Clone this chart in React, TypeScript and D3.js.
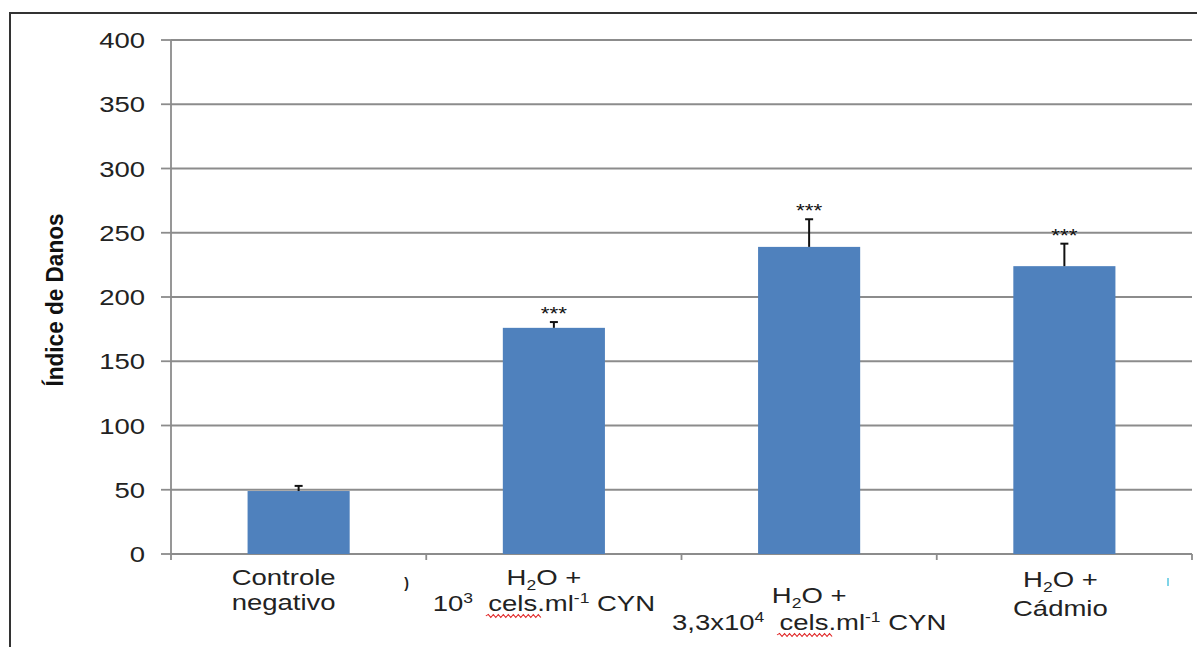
import React, { useEffect, useRef } from "react";
import * as d3 from "d3";

// ---- data ----
const categories = [
  "Controle negativo",
  "H2O + 10^3 cels.ml-1 CYN",
  "H2O + 3,3x10^4 cels.ml-1 CYN",
  "H2O + Cádmio",
];
const means = [49, 176, 239, 224];
const errors = [4, 4.5, 21.5, 17.5];
const significance = ["", "***", "***", "***"];
const yTicks = [0, 50, 100, 150, 200, 250, 300, 350, 400];
const yTitle = "Índice de Danos";

type Seg = [string, "" | "sub" | "sup" | "spell"];
const labelLines: Seg[][][] = [
  [[["Controle", ""]], [["negativo", ""]]],
  [
    [["H", ""], ["2", "sub"], ["O +", ""]],
    [["10", ""], ["3", "sup"], ["  ", ""], ["cels", "spell"], [".ml", ""], ["-1", "sup"], [" CYN", ""]],
  ],
  [
    [["H", ""], ["2", "sub"], ["O +", ""]],
    [["3,3x10", ""], ["4", "sup"], ["  ", ""], ["cels", "spell"], [".ml", ""], ["-1", "sup"], [" CYN", ""]],
  ],
  [[["H", ""], ["2", "sub"], ["O +", ""]], [["Cádmio", ""]]],
];

const W = 1197;
const H = 647;
const FONT = "'Liberation Sans', Arial, sans-serif";
const SX = 1.25;

function renderLine(segs: Seg[]) {
  let shift = 0;
  return segs.map(([t, kind], i) => {
    const target = kind === "sub" ? 5 : kind === "sup" ? -8 : 0;
    const dy = target - shift;
    shift = target;
    const small = kind === "sub" || kind === "sup";
    return (
      <tspan key={i} dy={dy} fontSize={small ? 14 : undefined} className={kind === "spell" ? "spell" : undefined}>
        {t}
      </tspan>
    );
  });
}

export default function App() {
  const svgRef = useRef<SVGSVGElement>(null);

  const x = d3.scaleBand<string>().domain(categories).range([171, 1192]).padding(0);
  const y = d3.scaleLinear().domain([0, 400]).range([554, 40]);
  const bw = x.bandwidth() * 0.4;
  const cx = (c: string) => (x(c) as number) + x.bandwidth() / 2;

  const nudge = [
    [-15, 0],
    [-10, 0],
    [0, 18],
    [-4, 2],
  ];
  const lineGap = [25, 26, 27, 29];

  useEffect(() => {
    const svg = d3.select(svgRef.current);
    svg.selectAll("path.squiggle").remove();
    svg.selectAll<SVGTSpanElement, unknown>("tspan.spell").each(function () {
      const n = this.getNumberOfChars();
      const s = this.getStartPositionOfChar(0);
      const e = this.getEndPositionOfChar(n - 1);
      const g = (this.parentNode as Element).parentNode as Element;
      const yy = s.y + 5;
      let d = `M${s.x - 2},${yy}`;
      let up = true;
      for (let xx = s.x - 2 + 2; xx <= e.x + 4; xx += 2) {
        d += ` L${xx},${yy + (up ? -1.5 : 1.5)}`;
        up = !up;
      }
      d3.select(g).append("path").attr("class", "squiggle").attr("d", d).attr("fill", "none").attr("stroke", "#e02020").attr("stroke-width", 0.9);
    });
  }, []);

  return (
    <svg ref={svgRef} width={W} height={H} style={{ position: "absolute", left: 0, top: 0, background: "#fff" }} fontFamily={FONT}>
      <rect x={0} y={0} width={W} height={H} fill="#fff" />
      {/* frame */}
      <path d={`M10,${H} V13 H${W}`} fill="none" stroke="#333" strokeWidth={2} />

      {/* gridlines */}
      {yTicks.map((t) => (
        <line key={"g" + t} x1={171} x2={1192} y1={y(t)} y2={y(t)} stroke="#8c8c8c" strokeWidth={1.8} />
      ))}
      {/* y axis */}
      <line x1={171} x2={171} y1={y(400)} y2={y(0)} stroke="#8c8c8c" strokeWidth={1.8} />
      {yTicks.map((t) => (
        <line key={"t" + t} x1={161} x2={171} y1={y(t)} y2={y(t)} stroke="#8c8c8c" strokeWidth={1.8} />
      ))}
      {yTicks.map((t) => (
        <g key={"l" + t} transform={`translate(145,${y(t) + 8}) scale(${SX},1)`}>
          <text textAnchor="end" fontSize={22} fill="#222">
            {t}
          </text>
        </g>
      ))}
      {/* x axis */}
      <line x1={171} x2={1192} y1={y(0)} y2={y(0)} stroke="#8c8c8c" strokeWidth={1.8} />
      {[...categories.map((c) => x(c) as number), 1192].map((v, i) => (
        <line key={"xt" + i} x1={v} x2={v} y1={y(0)} y2={y(0) + 6} stroke="#8c8c8c" strokeWidth={1.8} />
      ))}

      {/* bars */}
      {categories.map((c, i) => (
        <rect key={"b" + i} x={cx(c) - bw / 2} y={y(means[i])} width={bw} height={y(0) - y(means[i])} fill="#4F81BD" />
      ))}
      {/* error bars */}
      {categories.map((c, i) => {
        const top = y(means[i] + errors[i]);
        return (
          <g key={"e" + i} stroke="#111" strokeWidth={2}>
            <line x1={cx(c)} x2={cx(c)} y1={y(means[i])} y2={top} />
            <line x1={cx(c) - 4} x2={cx(c) + 4} y1={top} y2={top} />
          </g>
        );
      })}
      {/* significance */}
      {categories.map((c, i) =>
        significance[i] ? (
          <g key={"s" + i} transform={`translate(${cx(c)},${y(means[i] + errors[i]) - 2}) scale(${SX},1)`}>
            <text textAnchor="middle" fontSize={18} fill="#111">
              {significance[i]}
            </text>
          </g>
        ) : null
      )}

      {/* x labels */}
      {categories.map((c, i) => (
        <g key={"xl" + i} transform={`translate(${cx(c) + nudge[i][0]},${585 + nudge[i][1]}) scale(${SX},1)`}>
          {labelLines[i].map((line, j) => (
            <text key={j} x={0} y={j * lineGap[i]} textAnchor="middle" fontSize={22} fill="#222" style={{ whiteSpace: "pre" }}>
              {renderLine(line)}
            </text>
          ))}
        </g>
      ))}
      {/* stray marks */}
      <text x={(x(categories[1]) as number) - 22} y={588} fontSize={14} fill="#222" fontWeight="bold">
        )
      </text>
      <rect x={1167} y={578} width={2} height={8} fill="#7fd4e8" />

      {/* y title */}
      <text
        transform="translate(63,300) rotate(-90)"
        textAnchor="middle"
        fontSize={23}
        fontWeight="bold"
        fill="#111"
        textLength={173}
        lengthAdjust="spacingAndGlyphs"
      >
        {yTitle}
      </text>
    </svg>
  );
}
